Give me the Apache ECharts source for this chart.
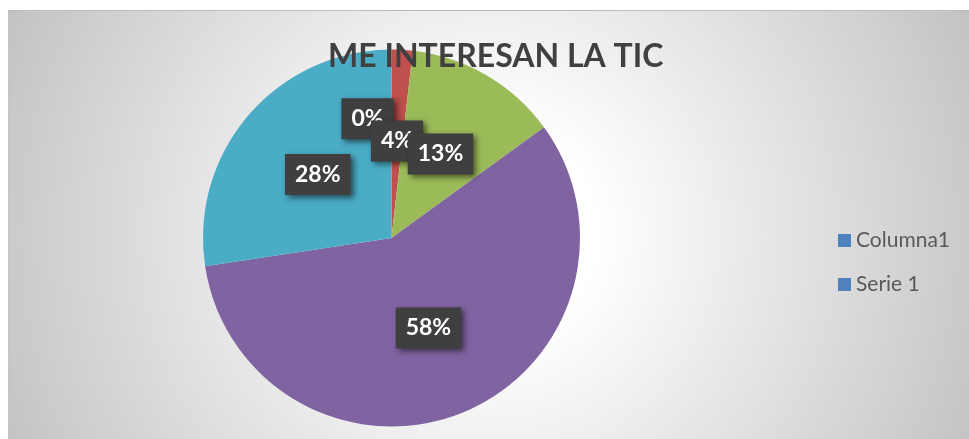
<!DOCTYPE html>
<html>
<head>
<meta charset="utf-8">
<script src="https://cdn.jsdelivr.net/npm/echarts@6/dist/echarts.min.js"></script>
<style>
  html, body { margin: 0; padding: 0; background: #fff; }
  #marco { position: absolute; left: 8px; top: 10px; width: 961px; height: 429px; border-top: 1px solid #bcbcbc; border-left: 1px solid #c4c4c4; }
  #main { width: 960px; height: 428px; }
</style>
</head>
<body>
<div id="marco"><div id="main"></div></div>
<script>
// datos
const categorias = ['1', '2', '3', '4', '5'];
const valores = [0, 1.8, 13.2, 57.6, 27.4];
// etiquetas tal como aparecen en el grafico original
const porcentajes = [0, 4, 13, 58, 28];
const colores = ['#4f81bd', '#c0504d', '#9bbb59', '#8064a2', '#4bacc6'];
const leyenda = ['Columna1', 'Serie 1'];

let myChart = echarts.init(document.getElementById('main'));

let datosPie = categorias.map(function(c, i) {
	let item = {
		name: c,
		value: valores[i],
		itemStyle: { color: colores[i] }
	};
	if (i === 0) {
		// Excel movio esta etiqueta para que no se tape
		item.label = { offset: [-24, -22] };
	}
	return item;
});

let option = {
	animation: false,
	backgroundColor: {
		type: 'radial',
		x: 0.5,
		y: 0.52,
		r: 1.25,
		colorStops: [
			{ offset: 0, color: '#ffffff' },
			{ offset: 0.2, color: '#ffffff' },
			{ offset: 1, color: '#c2c2c2' }
		]
	},
	title: {
		text: 'ME INTERESAN LA TIC',
		left: 314,
		top: 25,
		textStyle: {
			fontFamily: 'Lato',
			fontWeight: 'bold',
			fontSize: 32,
			color: '#404040'
		}
	},
	legend: {
		data: leyenda,
		orient: 'vertical',
		left: 824,
		top: 214,
		itemWidth: 13,
		itemHeight: 13,
		itemGap: 23,
		icon: 'rect',
		selectedMode: false,
		textStyle: {
			fontFamily: 'Lato',
			fontSize: 21,
			color: '#595959'
		}
	},
	grid: { show: false },
	xAxis: { show: false, type: 'category', data: [] },
	yAxis: { show: false, type: 'value' },
	series: [{
		name: 'Columna1',
		type: 'bar',
		data: [],
		itemStyle: { color: '#4f81bd' }
	}, {
		name: 'Serie 1',
		type: 'bar',
		data: [],
		itemStyle: { color: '#4f81bd' }
	}, {
		name: 'MI',
		type: 'pie',
		center: [382.5, 227],
		radius: 188.5,
		startAngle: 90,
		clockwise: true,
		silent: true,
		label: {
			show: true,
			position: 'inside',
			formatter: function(p) {
				return porcentajes[p.dataIndex] + '%';
			},
			fontFamily: 'Lato',
			fontWeight: 'bold',
			fontSize: 23,
			color: '#ffffff',
			backgroundColor: '#3f3f3f',
			padding: [9, 10],
			shadowColor: 'rgba(0,0,0,0.55)',
			shadowBlur: 6,
			shadowOffsetX: 3,
			shadowOffsetY: 3
		},
		labelLayout: { hideOverlap: false },
		labelLine: { show: false },
		itemStyle: { borderWidth: 0 },
		data: datosPie
	}]
};

myChart.setOption(option);
</script>
</body>
</html>
